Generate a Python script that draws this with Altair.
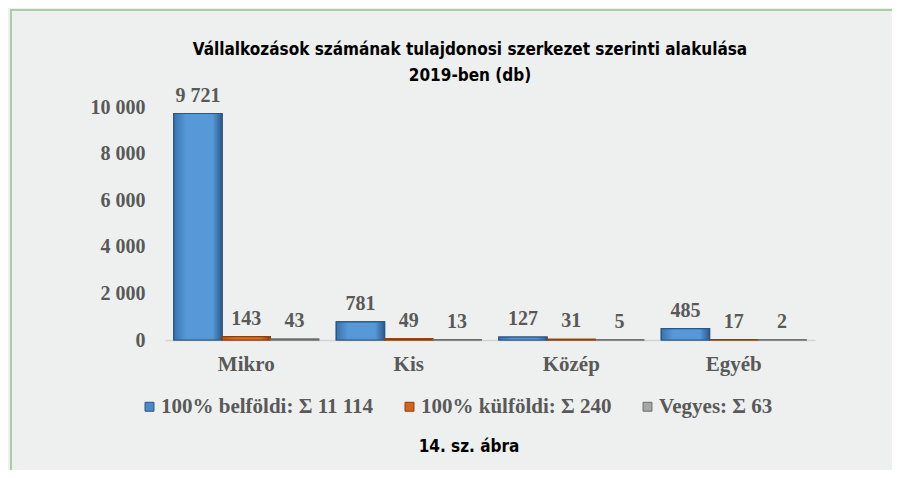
import altair as alt
import pandas as pd

categories = ["Mikro", "Kis", "Közép", "Egyéb"]
belfoldi = [9721, 781, 127, 485]
kulfoldi = [143, 49, 31, 17]
vegyes = [43, 13, 5, 2]
series_base = ["100% belföldi", "100% külföldi", "Vegyes"]
colors = ["#4d89c9", "#d2641f", "#a6a6a6"]
strokes = ["#2a5684", "#8e3d0c", "#6e6e6e"]
grad_stops = [
    ["#3a72b0", "#5799d8", "#5799d8", "#2c5a8c"],
    ["#b8540f", "#dc6e26", "#dc6e26", "#8e3d0c"],
    ["#939393", "#b3b3b3", "#b3b3b3", "#7a7a7a"],
]
y_ticks = [0, 2000, 4000, 6000, 8000, 10000]
title_lines = ["Vállalkozások számának tulajdonosi szerkezet szerinti alakulása", "2019-ben (db)"]
caption_text = ["14. sz. ábra"]


def hu(n):
    return f"{n:,}".replace(",", " ")


series_vals = [belfoldi, kulfoldi, vegyes]
series_names = [f"{b}: Σ {hu(sum(v))}" for b, v in zip(series_base, series_vals)]

rows = []
for name, vals in zip(series_names, series_vals):
    for c, v in zip(categories, vals):
        rows.append({"cat": c, "series": name, "value": v, "label": hu(v)})
df = pd.DataFrame(rows)

GRAY = "#595959"
SERIF = "Liberation Serif"
COND = "Liberation Sans Narrow, DejaVu Sans Condensed, sans-serif"

x_enc = alt.X(
    "cat:N",
    sort=categories,
    title=None,
    scale=alt.Scale(domain=categories, paddingInner=0.108, paddingOuter=0.054),
    axis=alt.Axis(
        labelAngle=0,
        labelFont=SERIF,
        labelFontWeight="bold",
        labelFontSize=21,
        labelColor=GRAY,
        labelPadding=13,
        ticks=False,
        domainColor="#d4d4d4",
        domainWidth=1.5,
        grid=False,
    ),
)
xoff = alt.XOffset(
    "series:N", sort=series_names, scale=alt.Scale(domain=series_names, paddingInner=0, paddingOuter=0)
)
y_enc = alt.Y(
    "value:Q",
    title=None,
    scale=alt.Scale(domain=[0, 10000], nice=False),
    axis=alt.Axis(
        values=y_ticks,
        labelExpr="replace(format(datum.value, ','), ',', ' ')",
        labelFont=SERIF,
        labelFontWeight="bold",
        labelFontSize=20,
        labelColor=GRAY,
        labelPadding=20,
        ticks=False,
        domain=False,
        grid=False,
    ),
)

base = alt.Chart(df)

bars = base.mark_bar(strokeWidth=1.2).encode(
    x=x_enc,
    xOffset=xoff,
    y=y_enc,
    color=alt.Color(
        "series:N",
        sort=series_names,
        scale=alt.Scale(domain=series_names, range=colors),
        legend=alt.Legend(
            title=None,
            orient="none",
            legendX=-26,
            legendY=289,
            direction="horizontal",
            symbolType="square",
            symbolSize=80,
            symbolStrokeWidth=1,
            symbolStrokeColor="#333333",
            labelFont=SERIF,
            labelFontWeight="bold",
            labelFontSize=21,
            labelColor=GRAY,
            labelOffset=1,
            columnPadding=25,
            labelLimit=400,
        ),
    ),
    stroke=alt.Stroke(
        "series:N",
        sort=series_names,
        scale=alt.Scale(domain=series_names, range=strokes),
        legend=None,
    ),
)

grad_layers = []
for name, st, sk in zip(series_names, grad_stops, strokes):
    g = alt.Gradient(
        gradient="linear",
        x1=0, x2=1, y1=0, y2=0,
        stops=[
            alt.GradientStop(offset=0, color=st[0]),
            alt.GradientStop(offset=0.25, color=st[1]),
            alt.GradientStop(offset=0.8, color=st[2]),
            alt.GradientStop(offset=1, color=st[3]),
        ],
    )
    grad_layers.append(
        base.transform_filter(alt.datum.series == name)
        .mark_bar(fill=g, stroke=sk, strokeWidth=1.2)
        .encode(x=alt.X("cat:N", sort=categories), xOffset=alt.XOffset("series:N", sort=series_names), y="value:Q")
    )

labels = base.mark_text(
    font=SERIF, fontWeight="bold", fontSize=20, color=GRAY, baseline="alphabetic", dy=-12
).encode(
    x=alt.X("cat:N", sort=categories),
    xOffset=alt.XOffset("series:N", sort=series_names),
    y="value:Q",
    text="label:N",
)

one = pd.DataFrame({"k": [0]})
frame_left = alt.Chart(one).mark_rule(color="#a9cca9", strokeWidth=2).encode(
    x=alt.value(-154), y=alt.value(-98), y2=alt.value(380)
)
frame_top = alt.Chart(one).mark_rule(color="#a9cca9", strokeWidth=2).encode(
    x=alt.value(-154), x2=alt.value(740), y=alt.value(-97)
)

title1 = alt.Chart(pd.DataFrame({"t": title_lines[:1]})).mark_text(
    font=COND, fontWeight="bold", fontSize=17, color="#000000", align="center", baseline="middle"
).encode(x=alt.value(305), y=alt.value(-57), text="t:N")
title2 = alt.Chart(pd.DataFrame({"t": title_lines[1:]})).mark_text(
    font=COND, fontWeight="bold", fontSize=17, color="#000000", align="center", baseline="middle"
).encode(x=alt.value(305), y=alt.value(-31), text="t:N")

caption = alt.Chart(pd.DataFrame({"t": caption_text})).mark_text(
    font=COND, fontWeight="bold", fontSize=17, color="#000000", align="center", baseline="middle"
).encode(x=alt.value(304), y=alt.value(340), text="t:N")

chart = (
    alt.layer(frame_left, frame_top, title1, title2, bars, *grad_layers, labels, caption)
    .properties(
        width=650,
        height=233,
        padding={"left": 157, "top": 99, "right": 77, "bottom": 130},
        autosize=alt.AutoSizeParams(type="none"),
        background="#eef0ef",
    )
    .configure_view(stroke=None)
)

chart.save("out.html", embed_options={"renderer": "svg", "actions": False})
